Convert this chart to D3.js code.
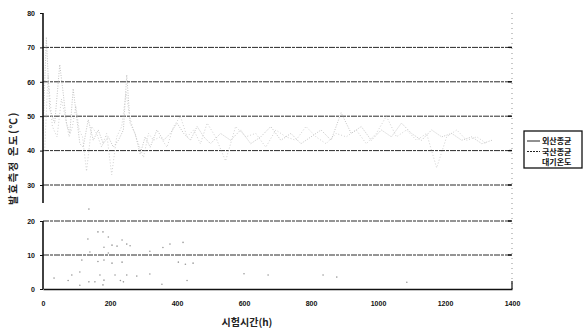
<!DOCTYPE html>
<html>
<head>
<meta charset="utf-8">
<script src="https://cdn.jsdelivr.net/npm/d3@7"></script>
<style>
  body { margin: 0; background: #fff; }
  svg { display: block; }
</style>
</head>
<body>
<svg id="chart"></svg>
<script>
// series (hours, °C)
const foreignTimes = [0, 10, 20, 35, 50, 60, 70, 80, 90, 100, 110, 120, 135, 150, 165, 180, 195, 210, 225, 240, 250, 260, 275, 290, 305, 320, 340, 360, 380, 400, 420, 440, 460, 480, 500, 530, 560, 590, 620, 650, 680, 710, 740, 770, 800, 830, 860, 890, 920, 950, 980, 1010, 1040, 1070, 1100, 1130, 1160, 1190, 1220, 1250, 1280, 1310, 1340];
const foreignTemps = [45, 73, 52, 48, 65, 57, 48, 45, 58, 50, 42, 41, 49, 43, 46, 42, 44, 41, 43, 46, 62, 48, 45, 39, 44, 41, 46, 43, 45, 48, 45, 43, 47, 44, 42, 45, 43, 46, 42, 44, 47, 43, 45, 42, 44, 46, 43, 51, 45, 47, 43, 46, 44, 48, 45, 43, 46, 44, 45, 43, 44, 42, 43];

const domesticTimes = [5, 15, 28, 42, 55, 66, 78, 88, 98, 108, 118, 130, 145, 160, 175, 190, 205, 220, 235, 248, 258, 270, 285, 300, 315, 330, 350, 370, 390, 410, 430, 450, 470, 490, 515, 545, 575, 605, 635, 665, 695, 725, 755, 785, 815, 845, 875, 905, 935, 965, 995, 1025, 1055, 1085, 1115, 1145, 1175, 1205, 1235, 1265, 1295, 1325];
const domesticTemps = [40, 62, 47, 44, 55, 50, 44, 47, 53, 46, 44, 34, 47, 45, 41, 45, 33, 44, 47, 57, 50, 46, 42, 38, 45, 43, 44, 41, 47, 50, 44, 46, 42, 48, 44, 37, 47, 44, 45, 41, 46, 44, 43, 47, 44, 42, 45, 44, 46, 42, 45, 50, 44, 46, 43, 45, 35, 44, 46, 43, 44, 42];

const airTimes = [33, 75, 86, 110, 110, 116, 134, 137, 137, 140, 155, 164, 164, 170, 179, 179, 182, 182, 182, 195, 195, 206, 206, 215, 221, 231, 236, 236, 240, 250, 250, 260, 280, 319, 319, 355, 358, 379, 404, 418, 425, 430, 448, 600, 672, 836, 877, 1086];
const airTemps = [3.2, 2.5, 4.1, 1.1, 5.0, 8.5, 14.7, 23.5, 2.1, 10.9, 2.1, 16.8, 8.1, 4.1, 16.8, 1.2, 12.3, 8.5, 2.6, 15.3, 10.6, 12.9, 7.6, 4.1, 12.6, 2.5, 14.4, 7.9, 2.1, 13.2, 4.1, 12.7, 3.8, 11.1, 4.4, 1.4, 12.2, 13.2, 7.9, 13.7, 7.3, 2.5, 7.6, 4.5, 4.1, 4.1, 3.5, 2.0];

const xTicks = [0, 200, 400, 600, 800, 1000, 1200, 1400];
const topTicks = [30, 40, 50, 60, 70, 80];
const bottomTicks = [0, 10, 20];
const legendLabels = ["외산종균", "국산종균", "대기온도"];

const width = 584, height = 329;
const svg = d3.select("#chart").attr("width", width).attr("height", height);

const x = d3.scaleLinear().domain([0, 1400]).range([43, 512]);
const yTop = d3.scaleLinear().domain([30, 80]).range([185, 13]);
const yBot = d3.scaleLinear().domain([0, 20]).range([289, 221]);

const numFont = "'Liberation Sans', Arial, sans-serif";
const krFont = "'Noto Sans CJK KR', sans-serif";

// gridlines
const grid = svg.append("g").attr("stroke", "#2a2a2a").attr("stroke-width", 1);
topTicks.filter((d) => d < 80).forEach((d) => {
  grid.append("line").attr("x1", x(0)).attr("x2", x(1400))
    .attr("y1", yTop(d)).attr("y2", yTop(d))
    .attr("stroke-dasharray", "6,1,3,1");
});
[10, 20].forEach((d) => {
  grid.append("line").attr("x1", x(0)).attr("x2", x(1400))
    .attr("y1", yBot(d)).attr("y2", yBot(d))
    .attr("stroke-dasharray", "6,1,3,1");
});

// right border (dotted)
svg.append("line")
  .attr("x1", x(1400)).attr("x2", x(1400))
  .attr("y1", yTop(80)).attr("y2", yBot(0))
  .attr("stroke", "#777").attr("stroke-width", 0.8)
  .attr("stroke-dasharray", "1,4");

// small marks at right end of grid lines
const rightMarks = svg.append("g").attr("stroke", "#111").attr("stroke-width", 1.4);
topTicks.filter((d) => d < 80).forEach((d) => {
  rightMarks.append("line").attr("x1", x(1400) - 4).attr("x2", x(1400))
    .attr("y1", yTop(d)).attr("y2", yTop(d));
});
[10, 20].forEach((d) => {
  rightMarks.append("line").attr("x1", x(1400) - 4).attr("x2", x(1400))
    .attr("y1", yBot(d)).attr("y2", yBot(d));
});

// series lines
const toPoints = (ts, vs) => ts.map((t, i) => ({ t, v: vs[i] }));
const line = d3.line().x((d) => x(d.t)).y((d) => yTop(d.v));

svg.append("path")
  .datum(toPoints(foreignTimes, foreignTemps))
  .attr("fill", "none").attr("stroke", "#b4b4b4").attr("stroke-width", 0.8)
  .attr("stroke-dasharray", "1,1.5")
  .attr("d", line);

svg.append("path")
  .datum(toPoints(domesticTimes, domesticTemps))
  .attr("fill", "none").attr("stroke", "#c4c4c4").attr("stroke-width", 0.8)
  .attr("stroke-dasharray", "1,2")
  .attr("d", line);

// ambient temperature dots
svg.append("g")
  .selectAll("circle")
  .data(toPoints(airTimes, airTemps))
  .join("circle")
  .attr("cx", (d) => x(d.t))
  .attr("cy", (d) => yBot(d.v))
  .attr("r", 0.8)
  .attr("fill", "#999");

// left axes
const topAxis = svg.append("g")
  .attr("transform", `translate(${x(0)},0)`)
  .call(d3.axisLeft(yTop).tickValues(topTicks).tickSize(3).tickFormat(d3.format("d")));
topAxis.select(".domain").attr("d", `M0,${yTop(80)}V${yTop(30) + 18}`)
  .attr("stroke", "#111").attr("stroke-width", 1.6);

const botAxis = svg.append("g")
  .attr("transform", `translate(${x(0)},0)`)
  .call(d3.axisLeft(yBot).tickValues(bottomTicks).tickSize(3).tickFormat(d3.format("d")));
botAxis.select(".domain").attr("d", `M0,${yBot(20)}V${yBot(0)}`)
  .attr("stroke", "#111").attr("stroke-width", 1.6);

[topAxis, botAxis].forEach((g) => {
  g.selectAll("text")
    .attr("x", -8)
    .style("font-family", numFont)
    .style("font-size", "7px")
    .style("font-weight", "bold")
    .attr("fill", "#111");
  g.selectAll(".tick line").attr("stroke", "#111");
});

// bottom axis
const xAxis = svg.append("g")
  .attr("transform", `translate(0,${yBot(0)})`)
  .call(d3.axisBottom(x).tickValues(xTicks).tickSize(0).tickPadding(12).tickFormat(d3.format("d")));
xAxis.select(".domain").attr("stroke", "#111").attr("stroke-width", 1.6);
xAxis.selectAll("text")
  .style("font-family", numFont)
  .style("font-size", "7px")
  .style("font-weight", "bold")
  .attr("fill", "#111");

// right end tick of the x axis
svg.append("line")
  .attr("x1", x(1400)).attr("x2", x(1400))
  .attr("y1", yBot(0) - 8).attr("y2", yBot(0))
  .attr("stroke", "#111").attr("stroke-width", 1.2);

// axis titles
svg.append("text")
  .attr("x", 247).attr("y", 326)
  .attr("text-anchor", "middle")
  .style("font-family", krFont).style("font-size", "10px").style("font-weight", "bold")
  .attr("fill", "#222")
  .text("시험시간(h)");

svg.append("text")
  .attr("transform", "translate(17,158) rotate(-90)")
  .attr("text-anchor", "middle")
  .style("font-family", krFont).style("font-size", "10.5px").style("font-weight", "bold")
  .style("letter-spacing", "1.5px")
  .attr("fill", "#222")
  .text("발효측정 온도(℃)");

// legend
const legend = svg.append("g").attr("transform", "translate(524,131)");
legend.append("rect")
  .attr("width", 58).attr("height", 37)
  .attr("fill", "#fff").attr("stroke", "#111").attr("stroke-width", 1.3);
legendLabels.forEach((label, i) => {
  const ly = 10 + i * 10.5;
  if (i < 2) {
    legend.append("line")
      .attr("x1", 3).attr("x2", 16).attr("y1", ly).attr("y2", ly)
      .attr("stroke", "#222").attr("stroke-width", 1)
      .attr("stroke-dasharray", i === 0 ? null : "2,1");
  }
  legend.append("text")
    .attr("x", 18).attr("y", ly + 3)
    .style("font-family", krFont).style("font-size", "8px").style("font-weight", "bold")
    .attr("fill", "#111")
    .text(label);
});
</script>
</body>
</html>
